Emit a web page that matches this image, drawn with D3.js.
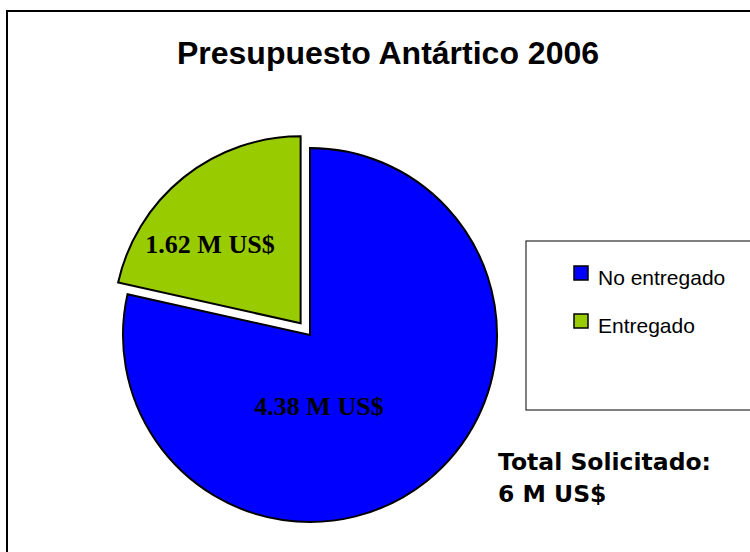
<!DOCTYPE html>
<html>
<head>
<meta charset="utf-8">
<script src="https://cdn.jsdelivr.net/npm/d3@7"></script>
<style>
  html, body { margin: 0; padding: 0; background: #fff; }
  svg { display: block; }
</style>
</head>
<body>
<svg id="chart" width="750" height="552"></svg>
<script>
// ---- data ----
const title = "Presupuesto Antártico 2006";
const categories = ["No entregado", "Entregado"];
const values = [4.71, 1.29];            // slice sizes as drawn
const sliceLabels = ["4.38 M US$", "1.62 M US$"];
const colors = ["#0000FF", "#99CC00"];
const explode = [0, 15];
const totalLines = ["Total Solicitado:", "6 M US$"];

const svg = d3.select("#chart");
const W = 750, H = 552;

// outer chart frame (extends beyond right/bottom)
svg.append("rect")
  .attr("x", 7).attr("y", 11)
  .attr("width", W + 20).attr("height", H + 20)
  .attr("fill", "#fff").attr("stroke", "#000").attr("stroke-width", 2);

// title
svg.append("text")
  .attr("x", 388).attr("y", 64)
  .attr("text-anchor", "middle")
  .attr("font-family", "'Liberation Sans', Arial, sans-serif")
  .attr("font-weight", "bold")
  .attr("font-size", 32)
  .text(title);

// pie
const cx = 310, cy = 335, r = 187;
const pie = d3.pie().sort(null).value(d => d)
  .startAngle(0).endAngle(2 * Math.PI);
const arcs = pie(values);
const arc = d3.arc().innerRadius(0).outerRadius(r);

const g = svg.append("g").attr("transform", `translate(${cx},${cy})`);
g.selectAll("path")
  .data(arcs)
  .join("path")
  .attr("transform", (d, i) => {
    const mid = (d.startAngle + d.endAngle) / 2;
    const off = explode[i];
    return `translate(${Math.sin(mid) * off},${-Math.cos(mid) * off})`;
  })
  .attr("d", arc)
  .attr("fill", (d, i) => colors[i])
  .attr("stroke", "#000")
  .attr("stroke-width", 2)
  .attr("stroke-linejoin", "miter");

// slice labels (positioned relative to pie centre)
const labelOffsets = [[9, 80], [-100, -82]];
g.selectAll("text.slab")
  .data(arcs)
  .join("text")
  .attr("class", "slab")
  .attr("text-anchor", "middle")
  .attr("font-family", "'Liberation Serif', 'Times New Roman', serif")
  .attr("font-weight", "bold")
  .attr("font-size", 26)
  .attr("x", (d, i) => labelOffsets[i][0])
  .attr("y", (d, i) => labelOffsets[i][1])
  .text((d, i) => sliceLabels[i]);

// legend
const lg = svg.append("g");
lg.append("rect")
  .attr("x", 526).attr("y", 241)
  .attr("width", 260).attr("height", 169)
  .attr("fill", "#fff").attr("stroke", "#000").attr("stroke-width", 1);
const items = lg.selectAll("g.item")
  .data(categories)
  .join("g")
  .attr("class", "item")
  .attr("transform", (d, i) => `translate(574,${266 + i * 48})`);
items.append("rect")
  .attr("width", 14).attr("height", 14)
  .attr("fill", (d, i) => colors[i])
  .attr("stroke", "#000").attr("stroke-width", 1.5);
items.append("text")
  .attr("x", 24).attr("y", 19)
  .attr("font-family", "'Liberation Sans', Arial, sans-serif")
  .attr("font-size", 21)
  .text(d => d);

// total text
svg.append("text")
  .attr("x", 498).attr("y", 470)
  .attr("font-family", "'DejaVu Sans', Tahoma, sans-serif")
  .attr("font-weight", "bold")
  .attr("font-size", 23.5)
  .selectAll("tspan")
  .data(totalLines)
  .join("tspan")
  .attr("x", 498)
  .attr("dy", (d, i) => i === 0 ? 0 : 32)
  .text(d => d);
</script>
</body>
</html>
